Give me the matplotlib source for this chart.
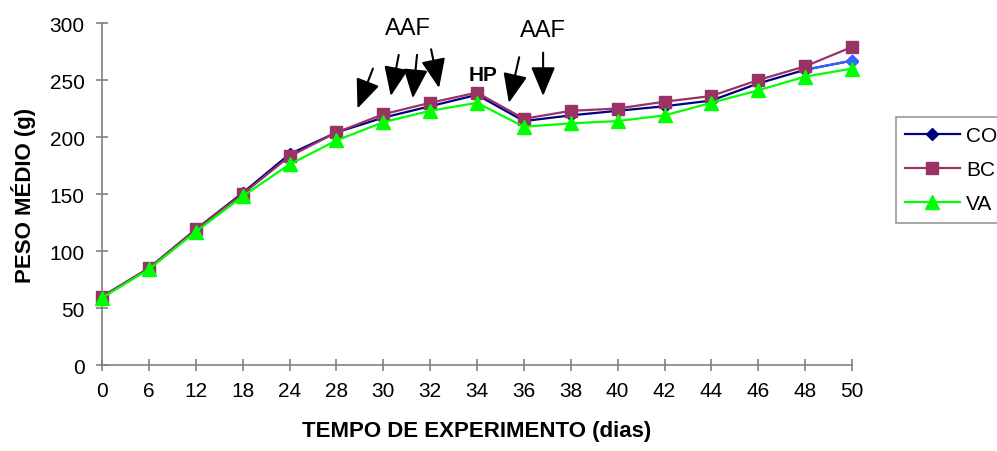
import numpy as np
import matplotlib.pyplot as plt

plt.rcParams['font.family'] = ['Liberation Sans', 'DejaVu Sans']

dias = ['0', '6', '12', '18', '24', '28', '30', '32', '34', '36', '38', '40',
        '42', '44', '46', '48', '50']
co = [60, 85, 119, 151, 185, 204, 217, 227, 237, 214, 219, 223, 227, 232, 247, 259, 267]
bc = [60, 85, 119, 150, 183, 204, 220, 230, 239, 216, 223, 225, 231, 236, 250, 262, 279]
va = [59, 84, 117, 148, 176, 197, 213, 223, 230, 209, 212, 214, 219, 230, 241, 253, 260]

# arrows: (tail x, tail y, tip x, tip y) in category index / grams
setas = [(5.78, 260, 5.45, 225),
         (6.33, 272, 6.16, 236),
         (6.72, 272, 6.63, 234),
         (7.02, 277, 7.19, 243),
         (8.90, 270, 8.68, 230),
         (9.41, 274, 9.41, 236)]

fig = plt.figure(figsize=(9.97, 4.52), dpi=100)
ax = fig.add_axes([0.1023, 0.190, 0.7523, 0.7569])

x = np.arange(len(dias))
ax.plot(x, co, color='#000080', lw=1.6, marker='D', ms=6.5, label='CO', clip_on=False, zorder=3)
# last point of CO is highlighted in a lighter blue
ax.plot(x[-2:], co[-2:], color='#3366FF', lw=1.6, zorder=3, clip_on=False)
ax.plot(x[-1:], co[-1:], color='#3366FF', marker='D', ms=6.5, ls='none', zorder=3, clip_on=False)
ax.plot(x, bc, color='#993366', lw=1.6, marker='s', ms=9, label='BC', clip_on=False, zorder=4)
ax.plot(x, va, color='#00FF00', lw=1.6, marker='^', ms=10, label='VA', clip_on=False, zorder=5)

ax.set_xlim(0, len(dias) - 1)
ax.set_ylim(0, 300)
ax.set_xticks(x)
ax.set_xticklabels(dias)
ax.set_yticks(np.arange(0, 301, 50))

for s in ['top', 'right']:
    ax.spines[s].set_visible(False)
for s in ['left', 'bottom']:
    ax.spines[s].set_color('#808080')
    ax.spines[s].set_linewidth(1.2)
ax.tick_params(direction='inout', length=9, width=1.2, color='#808080', labelsize=15)
ax.tick_params(axis='x', pad=7)
ax.tick_params(axis='y', pad=8)

ax.set_xlabel('TEMPO DE EXPERIMENTO (dias)', fontsize=16, fontweight='bold', labelpad=14)
ax.set_ylabel('PESO MÉDIO (g)', fontsize=16, fontweight='bold', labelpad=10)

for x0, y0, x1, y1 in setas:
    ax.annotate('', xy=(x1, y1), xytext=(x0, y0), annotation_clip=False,
                arrowprops=dict(arrowstyle='-|>,head_length=1.8,head_width=0.75',
                                color='black', lw=1.5, shrinkA=0, shrinkB=0))

ax.text(6.52, 296, 'AAF', fontsize=17, ha='center', va='center')
ax.text(9.41, 294, 'AAF', fontsize=17, ha='center', va='center')
ax.text(8.13, 255, 'HP', fontsize=15, fontweight='bold', ha='center', va='center')

leg = ax.legend(loc='upper left', bbox_to_anchor=(896 / 997, 1 - 118 / 452),
                bbox_transform=fig.transFigure, fontsize=15, frameon=True,
                fancybox=False, handlelength=2.6, handletextpad=0.3,
                labelspacing=0.72, borderpad=0.45, borderaxespad=0)
leg.get_frame().set_edgecolor('#808080')
leg.get_frame().set_linewidth(1.2)

plt.savefig('out.png', dpi=100)
